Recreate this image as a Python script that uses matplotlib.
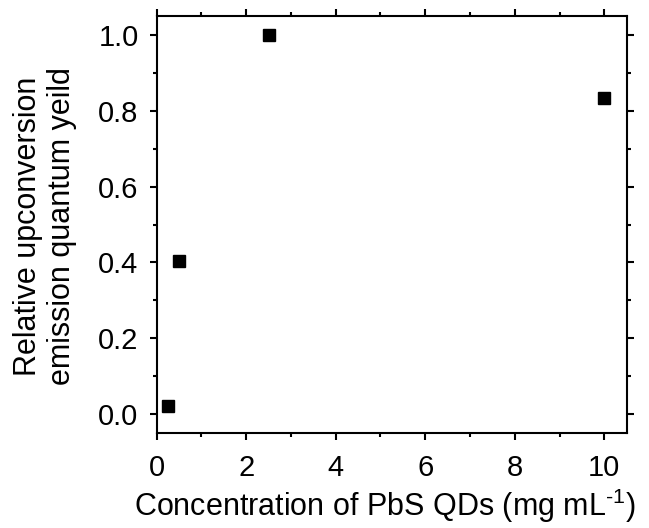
import matplotlib
matplotlib.use("Agg")
import matplotlib.pyplot as plt
from matplotlib.ticker import MultipleLocator, FormatStrFormatter

conc = [0.25, 0.5, 2.5, 10.0]
rel_qy = [0.02, 0.405, 1.0, 0.833]

plt.rcParams['font.family'] = ['Liberation Sans', 'DejaVu Sans']
plt.rcParams['mathtext.fontset'] = 'custom'
plt.rcParams['mathtext.rm'] = 'Liberation Sans'
plt.rcParams['mathtext.default'] = 'regular'

W, H = 649, 528
fig = plt.figure(figsize=(6.49, 5.28), dpi=100)
ax = fig.add_axes([0.2414, 0.1799, 0.9656 - 0.2414, 0.9697 - 0.1799])

ax.plot(conc, rel_qy, linestyle='none', marker='s', markersize=9, color='black')

ax.set_xlim(0, 10.5)
ax.set_ylim(-0.05, 1.05)
ax.xaxis.set_major_locator(MultipleLocator(2))
ax.xaxis.set_minor_locator(MultipleLocator(1))
ax.yaxis.set_major_locator(MultipleLocator(0.2))
ax.yaxis.set_minor_locator(MultipleLocator(0.1))
ax.yaxis.set_major_formatter(FormatStrFormatter('%.1f'))

for s in ax.spines.values():
    s.set_linewidth(1.5)
ax.tick_params(which='both', direction='out', top=True, right=True, width=1.5,
               labeltop=False, labelright=False)
ax.tick_params(which='major', length=5, labelsize=21)
ax.tick_params(which='minor', length=3)
ax.tick_params(axis='x', which='major', pad=10)
ax.tick_params(axis='y', which='major', pad=8)

fig.text(385 / W, 1 - 506 / H, 'Concentration of PbS QDs (mg mL$^{\u20101}$)',
         fontsize=22, ha='center', va='center')
fig.text(45 / W, 1 - 226 / H, 'Relative upconversion\nemission quantum yeild',
         fontsize=22, rotation=90, ha='center', va='center', linespacing=1.15,
         multialignment='center')

fig.savefig('out.png', dpi=100)
